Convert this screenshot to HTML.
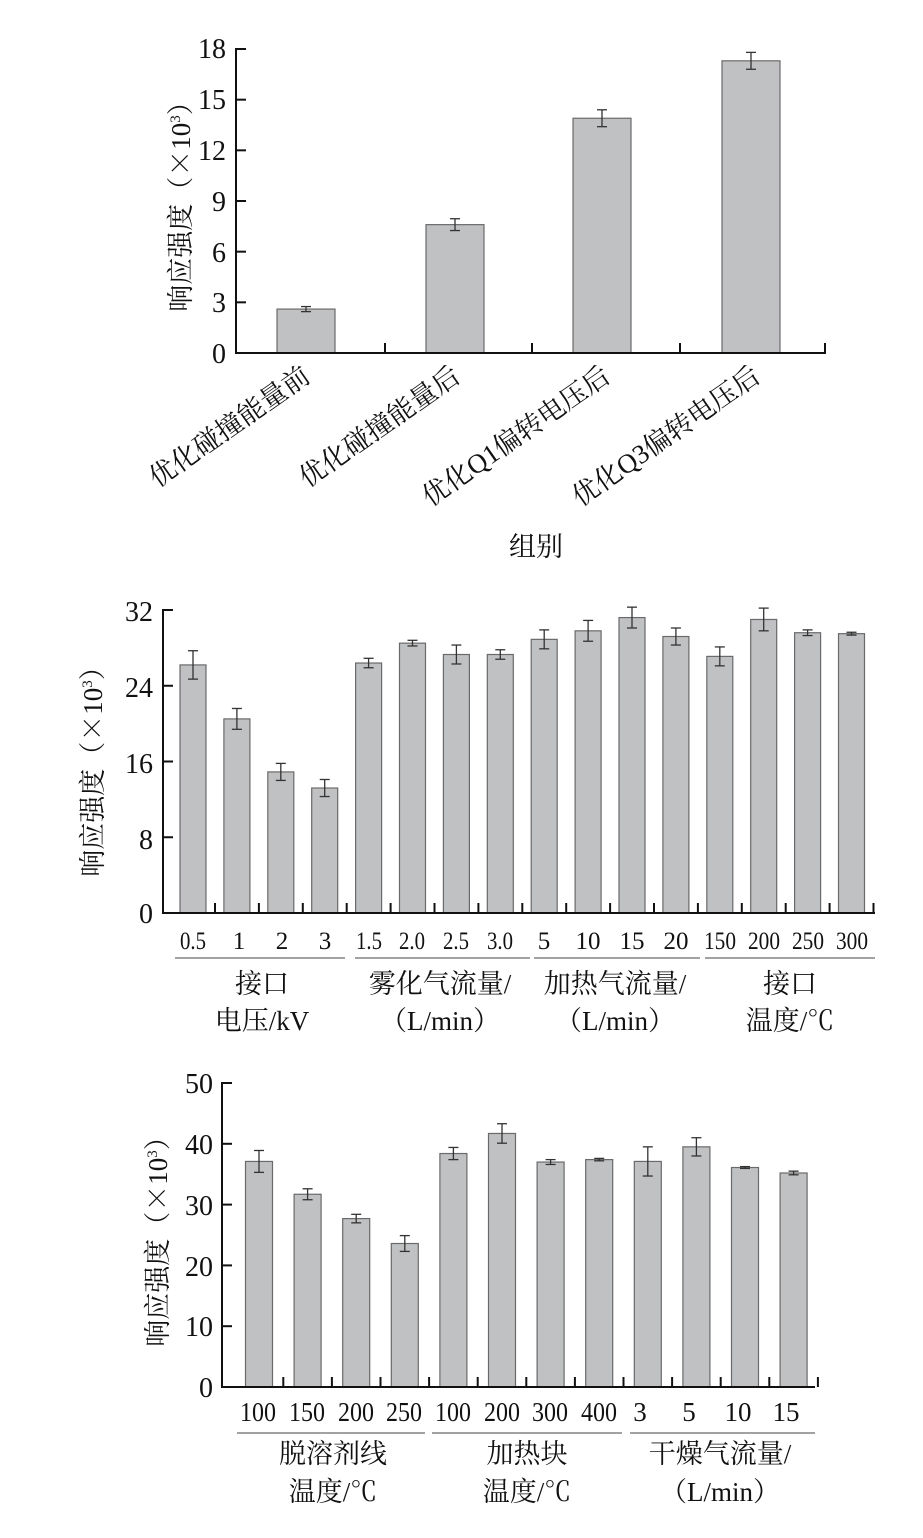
<!DOCTYPE html>
<html><head><meta charset="utf-8"><style>
body{margin:0;background:#fff;width:923px;height:1538px;overflow:hidden}
svg{display:block}
text{font-family:"Liberation Serif","Noto Serif CJK SC",serif;fill:#111}
.t{font-size:28px}
.c{font-size:27px}
.x{font-family:"Noto Serif CJK SC",serif}
</style></head><body>
<svg id="s" width="923" height="1538" viewBox="0 0 923 1538">
<g id="g"></g>
<!-- Chart 1 -->
<g class="t" text-anchor="end">
<text x="226" y="58">18</text><text x="226" y="109">15</text><text x="226" y="160">12</text>
<text x="226" y="211">9</text><text x="226" y="262">6</text><text x="226" y="312">3</text><text x="226" y="363">0</text>
</g>
<text class="c" transform="translate(190,200) rotate(-90)" text-anchor="middle">响应强度（<tspan class="x">×</tspan>10<tspan font-size="15" dy="-10">3</tspan><tspan dy="10">）</tspan></text>
<g class="c" text-anchor="end">
<text transform="translate(312,380) rotate(-35)">优化碰撞能量前</text>
<text transform="translate(462,380) rotate(-35)">优化碰撞能量后</text>
<text transform="translate(612,380) rotate(-35)">优化Q1偏转电压后</text>
<text transform="translate(762,380) rotate(-35)">优化Q3偏转电压后</text>
</g>
<text class="c" x="536" y="556" text-anchor="middle">组别</text>
<!-- Chart 2 -->
<g class="t" text-anchor="end">
<text x="153" y="621">32</text><text x="153" y="697">24</text><text x="153" y="773">16</text>
<text x="153" y="849">8</text><text x="153" y="923">0</text>
</g>
<text class="c" transform="translate(102,765) rotate(-90)" text-anchor="middle">响应强度（<tspan class="x">×</tspan>10<tspan font-size="15" dy="-10">3</tspan><tspan dy="10">）</tspan></text>
<g class="t" text-anchor="middle" style="font-size:25px">
<text x="193" y="949" textLength="26" lengthAdjust="spacingAndGlyphs">0.5</text><text x="239" y="949">1</text><text x="282" y="949">2</text><text x="325" y="949">3</text>
<text x="369" y="949" textLength="26" lengthAdjust="spacingAndGlyphs">1.5</text><text x="412" y="949" textLength="26" lengthAdjust="spacingAndGlyphs">2.0</text><text x="456" y="949" textLength="26" lengthAdjust="spacingAndGlyphs">2.5</text><text x="500" y="949" textLength="26" lengthAdjust="spacingAndGlyphs">3.0</text>
<text x="544" y="949">5</text><text x="588" y="949">10</text><text x="632" y="949">15</text><text x="676" y="949">20</text>
<text x="720" y="949" textLength="32" lengthAdjust="spacingAndGlyphs">150</text><text x="764" y="949" textLength="32" lengthAdjust="spacingAndGlyphs">200</text><text x="808" y="949" textLength="32" lengthAdjust="spacingAndGlyphs">250</text><text x="852" y="949" textLength="32" lengthAdjust="spacingAndGlyphs">300</text>
</g>
<g stroke="#444" stroke-width="1"><line x1="175" y1="958" x2="345" y2="958"/><line x1="355" y1="958" x2="530" y2="958"/><line x1="534" y1="958" x2="700" y2="958"/><line x1="705" y1="958" x2="875" y2="958"/></g>
<g class="c" text-anchor="middle">
<text x="262" y="993">接口</text><text x="262" y="1030">电压/kV</text>
<text x="440" y="993">雾化气流量/</text><text x="440" y="1030">（L/min）</text>
<text x="615" y="993">加热气流量/</text><text x="615" y="1030">（L/min）</text>
<text x="790" y="993">接口</text><text x="790" y="1030">温度/℃</text>
</g>
<!-- Chart 3 -->
<g class="t" text-anchor="end">
<text x="213" y="1093">50</text><text x="213" y="1154">40</text><text x="213" y="1215">30</text>
<text x="213" y="1276">20</text><text x="213" y="1336">10</text><text x="213" y="1397">0</text>
</g>
<text class="c" transform="translate(167,1235) rotate(-90)" text-anchor="middle">响应强度（<tspan class="x">×</tspan>10<tspan font-size="15" dy="-10">3</tspan><tspan dy="10">）</tspan></text>
<g class="t" text-anchor="middle" style="font-size:27px">
<text x="258" y="1421" textLength="36" lengthAdjust="spacingAndGlyphs">100</text><text x="307" y="1421" textLength="36" lengthAdjust="spacingAndGlyphs">150</text><text x="356" y="1421" textLength="36" lengthAdjust="spacingAndGlyphs">200</text><text x="404" y="1421" textLength="36" lengthAdjust="spacingAndGlyphs">250</text>
<text x="453" y="1421" textLength="36" lengthAdjust="spacingAndGlyphs">100</text><text x="502" y="1421" textLength="36" lengthAdjust="spacingAndGlyphs">200</text><text x="550" y="1421" textLength="36" lengthAdjust="spacingAndGlyphs">300</text><text x="599" y="1421" textLength="36" lengthAdjust="spacingAndGlyphs">400</text>
<text x="640" y="1421">3</text><text x="689" y="1421">5</text><text x="738" y="1421">10</text><text x="786" y="1421">15</text>
</g>
<g stroke="#444" stroke-width="1"><line x1="237" y1="1433" x2="425" y2="1433"/><line x1="432" y1="1433" x2="622" y2="1433"/><line x1="630" y1="1433" x2="815" y2="1433"/></g>
<g class="c" text-anchor="middle">
<text x="333" y="1463">脱溶剂线</text><text x="333" y="1501">温度/℃</text>
<text x="527" y="1463">加热块</text><text x="527" y="1501">温度/℃</text>
<text x="720" y="1463">干燥气流量/</text><text x="720" y="1501">（L/min）</text>
</g>
</svg>
<script>
var g=document.getElementById('g'),h='';
function chart(ax,y0,ytop,vmax,right,ticks,xs,bw,vals,errs,groupTicks){
 var sc=(y0-ytop)/vmax;
 for(var i=0;i<vals.length;i++){
  var x=xs[i],top=y0-vals[i]*sc,e=errs[i]*sc;
  h+='<rect x="'+(x-bw/2)+'" y="'+top+'" width="'+bw+'" height="'+(y0-top)+'" fill="#c0c1c3" stroke="#6a6a6a" stroke-width="1.2"/>';
  h+='<g stroke="#333" stroke-width="1.3"><line x1="'+x+'" y1="'+(top-e)+'" x2="'+x+'" y2="'+(top+e)+'"/><line x1="'+(x-5)+'" y1="'+(top-e)+'" x2="'+(x+5)+'" y2="'+(top-e)+'"/><line x1="'+(x-5)+'" y1="'+(top+e)+'" x2="'+(x+5)+'" y2="'+(top+e)+'"/></g>';
 }
 h+='<g stroke="#111" stroke-width="2" fill="none"><line x1="'+ax+'" y1="'+(ytop-1)+'" x2="'+ax+'" y2="'+(y0+1)+'"/><line x1="'+(ax-1)+'" y1="'+y0+'" x2="'+right+'" y2="'+y0+'"/>';
 for(var k=0;k<=ticks;k++){var y=ytop+(y0-ytop)*k/ticks;h+='<line x1="'+ax+'" y1="'+y+'" x2="'+(ax+10)+'" y2="'+y+'"/>';}
 groupTicks.forEach(function(x){h+='<line x1="'+x+'" y1="'+y0+'" x2="'+x+'" y2="'+(y0-10)+'"/>';});
 h+='</g>';
}
chart(236,353,49,18,826,6,[306,455,602,751],58,[2.6,7.6,13.9,17.3],[0.15,0.35,0.5,0.5],[385,532,680,825]);
var xs2=[],gt2=[];for(var i=0;i<16;i++){xs2.push(193+i*43.9);gt2.push(193+i*43.9+22);}
chart(163,913,610,32,875,4,xs2,26,[26.2,20.5,14.9,13.2,26.4,28.5,27.3,27.3,28.9,29.8,31.2,29.2,27.1,31.0,29.6,29.5],[1.5,1.1,0.9,0.9,0.5,0.3,1.0,0.5,1.0,1.1,1.1,0.9,1.0,1.2,0.3,0.15],gt2);
var xs3=[],gt3=[];for(var i=0;i<12;i++){xs3.push(259+i*48.6);gt3.push(259+i*48.6+24.3);}
chart(222,1387,1083,50,815,5,xs3,27,[37.1,31.7,27.7,23.6,38.4,41.7,37.0,37.4,37.1,39.5,36.1,35.2],[1.8,0.9,0.7,1.3,1.0,1.6,0.4,0.2,2.4,1.5,0.15,0.3],gt3);
g.innerHTML=h;
</script>
</body></html>
